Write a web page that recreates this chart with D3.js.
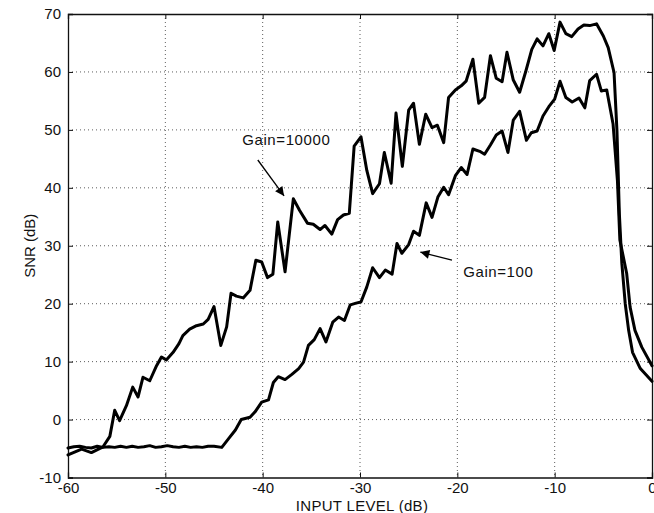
<!DOCTYPE html>
<html>
<head>
<meta charset="utf-8">
<script src="https://cdn.jsdelivr.net/npm/d3@7"></script>
<style>
  html, body { margin: 0; padding: 0; background: #fff; }
  svg { display: block; }
  text { font-family: "Liberation Sans", Arial, Helvetica, sans-serif; fill: #111; }
</style>
</head>
<body>
<svg id="chart" width="654" height="513"></svg>
<script>
// ---- Data ----
const xTicks = [-60, -50, -40, -30, -20, -10, 0];
const yTicks = [-10, 0, 10, 20, 30, 40, 50, 60, 70];

const levels10000 = [-60.0, -58.6, -57.6, -56.4, -55.7, -55.2, -54.7, -54.0, -53.35, -52.8, -52.3, -51.6, -50.9, -50.4, -49.9, -49.2, -48.6, -48.2, -47.5, -46.8, -46.1, -45.6, -45.0, -44.3, -43.7, -43.25, -42.7, -42.0, -41.3, -40.7, -40.1, -39.5, -38.95, -38.45, -37.7, -36.85, -36.2, -35.4, -34.8, -34.1, -33.6, -32.9, -32.3, -31.7, -31.1, -30.6, -29.9, -29.3, -28.7, -28.0, -27.5, -26.8, -26.3, -25.65, -25.0, -24.5, -23.9, -23.25, -22.6, -22.05, -21.4, -20.9, -20.2, -19.6, -19.1, -18.4, -17.8, -17.2, -16.6, -16.0, -15.4, -14.9, -14.25, -13.6, -12.95, -12.35, -11.8, -11.2, -10.6, -10.05, -9.45, -8.85, -8.25, -7.6, -7.0, -6.4, -5.7, -5.0, -4.5, -3.9, -3.6, -3.35, -3.1, -2.75, -2.4, -2.0, -1.2, 0.0];
const snr10000 = [-6.1, -5.1, -5.7, -4.7, -2.9, 1.6, -0.2, 2.4, 5.6, 3.9, 7.3, 6.7, 9.3, 10.8, 10.3, 11.6, 13.1, 14.5, 15.6, 16.2, 16.5, 17.3, 19.5, 12.8, 16.0, 21.8, 21.3, 21.0, 22.3, 27.5, 27.2, 24.5, 25.1, 34.1, 25.5, 38.1, 36.1, 33.9, 33.7, 32.8, 33.5, 32.0, 34.5, 35.3, 35.6, 47.2, 48.8, 43.0, 39.0, 40.7, 46.1, 40.8, 52.9, 43.7, 53.4, 54.6, 47.5, 52.7, 50.4, 50.8, 47.8, 55.6, 56.9, 57.6, 58.4, 62.2, 54.6, 55.6, 62.8, 58.9, 58.3, 63.4, 58.6, 56.5, 60.2, 63.9, 65.7, 64.5, 66.6, 63.7, 68.6, 66.6, 66.1, 67.4, 68.1, 68.0, 68.3, 66.2, 64.2, 59.9, 49.8, 35.4, 27.0, 20.0, 15.4, 11.6, 8.8, 6.6];

const levels100 = [-60.0, -59.4, -58.8, -58.2, -57.6, -57.0, -56.4, -55.8, -55.2, -54.6, -54.0, -53.4, -52.8, -52.2, -51.6, -51.0, -50.4, -49.8, -49.2, -48.6, -48.0, -47.4, -46.8, -46.2, -45.6, -45.0, -44.2, -43.5, -42.8, -42.2, -41.3, -40.8, -40.1, -39.4, -38.9, -38.4, -37.7, -37.0, -36.3, -35.8, -35.3, -34.7, -34.1, -33.5, -32.8, -32.2, -31.6, -31.0, -30.4, -29.9, -29.3, -28.7, -28.0, -27.4, -26.7, -26.2, -25.7, -25.0, -24.5, -23.9, -23.2, -22.6, -22.0, -21.4, -20.9, -20.2, -19.6, -19.0, -18.4, -17.7, -17.2, -16.6, -16.0, -15.4, -14.8, -14.25, -13.6, -12.9, -12.4, -11.8, -11.2, -10.6, -10.0, -9.45, -8.85, -8.2, -7.5, -6.9, -6.4, -5.7, -5.2, -4.65, -4.0, -3.55, -3.3, -2.6, -2.25, -1.75, -1.05, 0.0];
const snr100 = [-4.9, -4.7, -4.6, -4.8, -4.9, -4.6, -4.8, -4.7, -4.8, -4.6, -4.8, -4.6, -4.8, -4.7, -4.5, -4.8, -4.7, -4.5, -4.7, -4.8, -4.6, -4.8, -4.7, -4.8, -4.6, -4.6, -4.8, -3.3, -1.8, 0.0, 0.4, 1.3, 3.0, 3.4, 6.4, 7.4, 6.9, 7.8, 8.8, 9.9, 12.8, 13.8, 15.7, 13.4, 16.8, 17.7, 17.1, 19.8, 20.1, 20.3, 22.9, 26.2, 24.5, 25.8, 25.1, 30.4, 28.7, 30.2, 32.5, 31.8, 37.4, 34.9, 38.4, 40.1, 38.8, 42.1, 43.5, 42.3, 46.7, 46.3, 45.8, 47.4, 49.1, 49.8, 46.1, 51.7, 53.2, 48.2, 49.5, 49.8, 52.4, 54.0, 55.3, 58.4, 55.6, 54.8, 55.5, 53.8, 58.5, 59.6, 56.7, 56.9, 51.0, 41.2, 31.0, 25.2, 19.4, 15.4, 12.5, 9.3];

const labelTexts = ["Gain=10000", "Gain=100"];
const labelAt = [[-42.1, 47.4], [-19.4, 24.6]];
const arrowFrom = [[-40.5, 44.8], [-20.55, 27.5]];
const arrowTo = [[-37.8, 38.6], [-23.8, 28.9]];

const xTitle = "INPUT LEVEL (dB)";
const yTitle = "SNR (dB)";

// ---- Layout ----
const svg = d3.select("#chart");
const plotL = 68, plotR = 652, plotT = 14, plotB = 477.5;

const x = d3.scaleLinear().domain([-60, 0]).range([plotL, plotR]);
const y = d3.scaleLinear().domain([-10, 70]).range([plotB, plotT]);
const fmt = d => String(d); // plain hyphen-minus like the reference

// grid (dotted)
const grid = svg.append("g");
grid.selectAll("line.gx").data(xTicks.slice(1, -1)).join("line")
  .attr("x1", d => x(d)).attr("x2", d => x(d))
  .attr("y1", plotT).attr("y2", plotB)
  .attr("stroke", "#333").attr("stroke-width", 0.8).attr("stroke-dasharray", "1,3");
grid.selectAll("line.gy").data(yTicks.slice(1, -1)).join("line")
  .attr("y1", d => y(d)).attr("y2", d => y(d))
  .attr("x1", plotL).attr("x2", plotR)
  .attr("stroke", "#333").attr("stroke-width", 0.8).attr("stroke-dasharray", "1,3");

// axes with inward ticks
const fontSize = 15;
const axB = svg.append("g").attr("transform", `translate(0,${plotB})`)
  .call(d3.axisBottom(x).tickValues(xTicks).tickSize(-5).tickPadding(6.5).tickFormat(fmt));
const axL = svg.append("g").attr("transform", `translate(${plotL},0)`)
  .call(d3.axisLeft(y).tickValues(yTicks).tickSize(-5).tickPadding(8).tickFormat(fmt));
const axT = svg.append("g").attr("transform", `translate(0,${plotT})`)
  .call(d3.axisTop(x).tickValues(xTicks).tickSize(-5).tickFormat(""));
const axR = svg.append("g").attr("transform", `translate(${plotR},0)`)
  .call(d3.axisRight(y).tickValues(yTicks).tickSize(-5).tickFormat(""));
[axB, axL, axT, axR].forEach(g => {
  g.selectAll("path.domain").attr("stroke", "#111").attr("stroke-width", 1.3);
  g.selectAll(".tick line").attr("stroke", "#111").attr("stroke-width", 1);
  g.selectAll("text").attr("font-size", fontSize)
    .attr("font-family", '"Liberation Sans", Arial, Helvetica, sans-serif').attr("fill", "#111");
});
axB.selectAll("text").attr("dy", "0.62em");
axL.selectAll("text").attr("dx", "1px");

// titles
svg.append("text").attr("x", 362).attr("y", 510.5).attr("text-anchor", "middle")
  .attr("font-size", 15).attr("letter-spacing", "0.3px").text(xTitle);
svg.append("text").attr("transform", `translate(35,${(plotT + plotB) / 2}) rotate(-90)`)
  .attr("text-anchor", "middle").attr("font-size", 15).text(yTitle);

// data lines
const line = d3.line().x(d => x(d[0])).y(d => y(d[1]));
const series = [
  d3.zip(levels10000, snr10000),
  d3.zip(levels100, snr100)
];
svg.append("g").selectAll("path").data(series).join("path")
  .attr("d", line)
  .attr("fill", "none").attr("stroke", "#000").attr("stroke-width", 3)
  .attr("stroke-linejoin", "round").attr("stroke-linecap", "round");

// annotations
svg.append("defs").append("marker")
  .attr("id", "ah").attr("viewBox", "0 0 10 10").attr("refX", 10).attr("refY", 5)
  .attr("markerWidth", 12).attr("markerHeight", 9).attr("markerUnits", "userSpaceOnUse")
  .attr("orient", "auto")
  .append("path").attr("d", "M0,0 L10,5 L0,10 Z").attr("fill", "#000");

const ann = svg.append("g");
ann.selectAll("text").data(labelTexts).join("text")
  .attr("x", (d, i) => x(labelAt[i][0])).attr("y", (d, i) => y(labelAt[i][1]))
  .attr("font-size", 15).attr("letter-spacing", "0.6px").text(d => d);
ann.selectAll("line").data(arrowFrom).join("line")
  .attr("x1", d => x(d[0])).attr("y1", d => y(d[1]))
  .attr("x2", (d, i) => x(arrowTo[i][0])).attr("y2", (d, i) => y(arrowTo[i][1]))
  .attr("stroke", "#000").attr("stroke-width", 1.3).attr("marker-end", "url(#ah)");
</script>
</body>
</html>
